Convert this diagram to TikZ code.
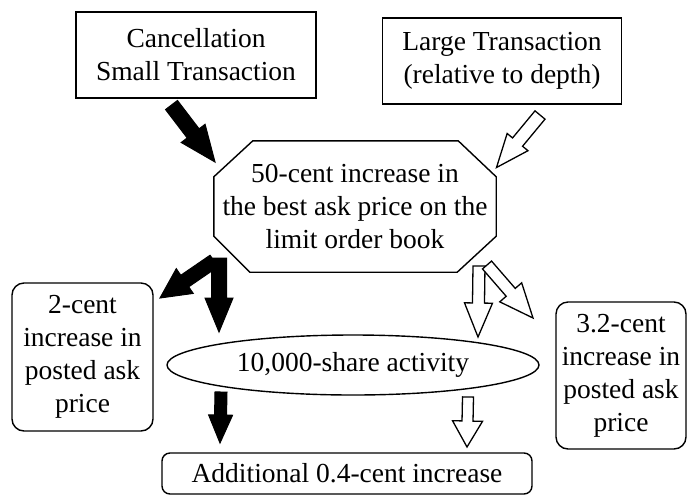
\documentclass[tikz,border=0pt]{standalone}
\usepackage{fontspec}
\setmainfont{Liberation Serif}
\usetikzlibrary{calc,positioning,shapes.geometric}

% block arrow: style, start, tip, half shaft, half head, head length
\newcommand\blockarrow[6]{%
  \coordinate (hb) at ($(#3)!#6!(#2)$);
  \filldraw[#1] ($(#2)!#4!90:(#3)$) -- ($(hb)!#4!90:(#3)$) -- ($(hb)!#5!90:(#3)$) -- (#3)
    -- ($(hb)!#5!-90:(#3)$) -- ($(hb)!#4!-90:(#3)$) -- ($(#2)!#4!-90:(#3)$) -- cycle;
}

\begin{document}
\begin{tikzpicture}[x=1pt, y=-1pt,
					every node/.style={
						font=\fontsize{27.5}{33}\selectfont,
						align=center, inner sep=3pt
					},
					plainbox/.style={draw, line width=1.4pt},
					roundbox/.style={draw, line width=1.4pt, rounded corners=12pt},
					ovalbox/.style={ellipse, draw, line width=1.4pt},
					solidarrow/.style={fill=black, draw=black, line width=1pt},
					hollowarrow/.style={fill=white, draw=black, line width=1.3pt}
				]
				\useasboundingbox (0,0) rectangle (687,496);
				
				\node[plainbox, minimum width=240pt, minimum height=86pt] (cancel) at (196,55)
					{Cancellation\\Small Transaction};
				\node[plainbox, minimum width=239pt, minimum height=86pt] (large) at (502,61)
					{Large Transaction\\(relative to depth)};
				\node[minimum width=282pt, minimum height=131pt] (book) at (355,206.5)
					{50-cent increase in\\the best ask price on the\\limit order book};
				\draw[line width=1.4pt] ($(book.north west)+(39,0)$) -- ($(book.north east)+(-38,0)$)
					-- ($(book.north east)+(0,36)$) -- ($(book.south east)+(0,-36)$)
					-- ($(book.south east)+(-39,0)$) -- ($(book.south west)+(36,0)$)
					-- ($(book.south west)+(0,-36)$) -- ($(book.north west)+(0,36)$) -- cycle;
				\node[ovalbox, minimum width=372pt, minimum height=60pt] (activity) at (353,365)
					{10,000-share activity};
				\node[roundbox, minimum width=141pt, minimum height=148pt] (left) at (82.5,357)
					{2-cent\\increase in\\posted ask\\price};
				\node[roundbox, minimum width=130pt, minimum height=147pt] (right) at (621,375.5)
					{3.2-cent\\increase in\\posted ask\\price};
				\node[roundbox, rounded corners=8pt, minimum width=370pt, minimum height=41pt] (extra) at (347,473.5)
					{Additional 0.4-cent increase};
				
				% arrow ends
				\coordinate (c0) at (171.5,105);   \coordinate (c1) at (215,162);
				\coordinate (l0) at (540,115);     \coordinate (l1) at (496.5,167.5);
				\coordinate (b0) at (219,258);     \coordinate (b1) at (219,332);
				\coordinate (b2) at (214,261);     \coordinate (b3) at (160,298);
				\coordinate (w0) at (479,266);     \coordinate (w1) at (478,337);
				\coordinate (w2) at (487,265);     \coordinate (w3) at (533,318);
				\coordinate (s0) at (221,392);     \coordinate (s1) at (220,443);
				\coordinate (t0) at (468,397);     \coordinate (t1) at (467,447);
				
				\blockarrow{solidarrow}{c0}{c1}{7.5pt}{15pt}{36pt}
				\blockarrow{hollowarrow}{l0}{l1}{6.5pt}{13.5pt}{33pt}
				\blockarrow{solidarrow}{b0}{b1}{7.5pt}{14pt}{34pt}
				\blockarrow{solidarrow}{b2}{b3}{7pt}{15pt}{30pt}
				\blockarrow{hollowarrow}{w0}{w1}{6pt}{14pt}{34pt}
				\blockarrow{hollowarrow}{w2}{w3}{6pt}{14.5pt}{34pt}
				\blockarrow{solidarrow}{s0}{s1}{6pt}{12pt}{28pt}
				\blockarrow{hollowarrow}{t0}{t1}{5.5pt}{15pt}{26pt}
			\end{tikzpicture}
\end{document}
